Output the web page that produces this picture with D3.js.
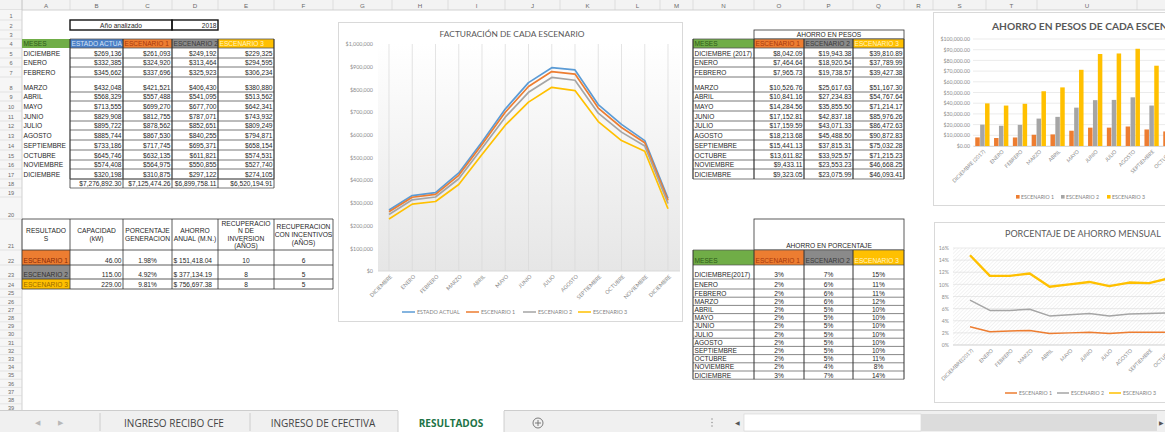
<!DOCTYPE html>
<html>
<head>
<meta charset="utf-8">
<title>RESULTADOS</title>
<script src="https://cdn.jsdelivr.net/npm/d3@7"></script>
<style>
body { margin: 0; background: #fff; overflow: hidden; }
svg { display: block; }
</style>
</head>
<body>
<div id="hoja"></div>
<script>
const W = 1165
const H = 432

const meses = ['DICIEMBRE', 'ENERO', 'FEBRERO', 'MARZO', 'ABRIL', 'MAYO', 'JUNIO', 'JULIO', 'AGOSTO', 'SEPTIEMBRE', 'OCTUBRE', 'NOVIEMBRE', 'DICIEMBRE']
const mesesPesos = ['DICIEMBRE (2017)', 'ENERO', 'FEBRERO', 'MARZO', 'ABRIL', 'MAYO', 'JUNIO', 'JULIO', 'AGOSTO', 'SEPTIEMBRE', 'OCTUBRE', 'NOVIEMBRE', 'DICIEMBRE']
const mesesPct = ['DICIEMBRE(2017)', 'ENERO', 'FEBRERO', 'MARZO', 'ABRIL', 'MAYO', 'JUNIO', 'JULIO', 'AGOSTO', 'SEPTIEMBRE', 'OCTUBRE', 'NOVIEMBRE', 'DICIEMBRE']
const series = ['ESTADO ACTUAL', 'ESCENARIO 1', 'ESCENARIO 2', 'ESCENARIO 3']

const estadoActual = [269136, 332385, 345662, 432048, 568329, 713555, 829908, 895722, 885744, 733186, 645746, 574408, 320198]
const escenario1 = [261093, 324920, 337696, 421521, 557488, 699270, 812755, 878562, 867530, 717745, 632135, 564975, 310875]
const escenario2 = [249192, 313464, 325923, 406430, 541095, 677700, 787071, 852651, 840255, 695371, 611821, 550855, 297122]
const escenario3 = [229325, 294595, 306234, 380880, 513562, 642341, 743932, 809249, 794871, 658154, 574531, 527740, 274105]
const totales = [7276892.30, 7125474.26, 6899758.11, 6520194.91]

const ahorro1 = [8042.09, 7464.64, 7965.73, 10526.76, 10841.16, 14284.56, 17152.81, 17159.59, 18213.68, 15441.13, 13611.82, 9433.11, 9323.05]
const ahorro2 = [19943.38, 18920.54, 19738.57, 25617.63, 27234.83, 35855.50, 42837.18, 43071.33, 45488.50, 37815.31, 33925.57, 23553.23, 23075.99]
const ahorro3 = [39810.89, 37789.99, 39427.38, 51167.30, 54767.64, 71214.17, 85976.26, 86472.63, 90872.83, 75032.28, 71215.23, 46668.25, 46093.41]

const pct1 = [3.0, 2.2, 2.3, 2.4, 1.9, 2.0, 2.1, 1.9, 2.1, 2.1, 2.1, 1.6, 2.9]
const pct2 = [7.4, 5.7, 5.7, 5.9, 4.8, 5.0, 5.2, 4.8, 5.1, 5.2, 5.3, 4.1, 7.2]
const pct3 = [14.8, 11.4, 11.4, 11.8, 9.6, 10.0, 10.4, 9.7, 10.3, 10.2, 11.0, 8.1, 14.4]

const resEscenarios = ['ESCENARIO 1', 'ESCENARIO 2', 'ESCENARIO 3']
const resCapacidad = [46, 115, 229]
const resPorcentaje = [1.98, 4.92, 9.81]
const resAhorro = [151418.04, 377134.19, 756697.38]
const resRecuperacion = [10, 8, 8]
const resIncentivos = [6, 5, 5]
const resHeaders = [['RESULTADO', 'S'], ['CAPACIDAD', '(kW)'], ['PORCENTAJE', 'GENERACION'], ['AHORRO', 'ANUAL (M.N.)'], ['RECUPERACIO', 'N DE', 'INVERSION', '(AÑOS)'], ['RECUPERACION', 'CON INCENTIVOS', '(AÑOS)']]
const hojas = ['INGRESO RECIBO CFE', 'INGRESO DE CFECTIVA', 'RESULTADOS']

// ---- colores ----
const cAzul = '#5b9bd5'
const cNaranja = '#ed7d31'
const cGris = '#a5a5a5'
const cOro = '#ffc000'
const hdrFill = { verde: '#70ad47', azul: '#4a7fc6', naranja: '#ed7d31', gris: '#8a8a8a', oro: '#ffc000' }
const hdrText = { verde: '#2e5a18', azul: '#d6e4f6', naranja: '#a8380c', gris: '#3a3a3a', oro: '#fff4c8' }

// ---- rejilla de la hoja ----
const colNames = ['A', 'B', 'C', 'D', 'E', 'F', 'G', 'H', 'I', 'J', 'K', 'L', 'M', 'N', 'O', 'P', 'Q', 'R', 'S', 'T', 'U', 'V']
const colEdges = [22, 70, 123, 172, 218, 274, 333, 392, 448, 505, 560, 615, 660, 693, 754, 804, 853, 904, 933, 986, 1037, 1137, 1215]
const rowHeights = [10, 10, 9, 9, 10, 9, 10, 15, 9, 10, 10, 9, 10, 10, 10, 9, 10, 9, 9, 22, 31, 15, 14, 10,
	8.2, 8.2, 8.2, 8.2, 8.2, 8.2, 8.2, 8.2, 8.2, 8.2, 8.2, 8.2, 8.2, 8.2, 8.2]
const rowEdges = [10]
rowHeights.forEach((h, i) => rowEdges.push(rowEdges[i] + h))
const barTop = 410

const colL = (c) => colEdges[colNames.indexOf(c)]
const colR = (c) => colEdges[colNames.indexOf(c) + 1]
const rowT = (r) => rowEdges[r - 1]
const rowB = (r) => rowEdges[r]

const chartFont = "Lato, 'Open Sans', sans-serif"

const svg = d3
	.select('#hoja')
	.append('svg')
	.attr('width', W)
	.attr('height', H)
	.attr('font-family', "'Liberation Sans', Arial, sans-serif")

svg.append('rect').attr('width', W).attr('height', H).attr('fill', '#fff')

const defs = svg.append('defs')
let clipCount = 0
function clipRect(x, y, w, h) {
	const id = 'clip' + clipCount++
	defs.append('clipPath').attr('id', id).append('rect').attr('x', x).attr('y', y).attr('width', w).attr('height', h)
	return 'url(#' + id + ')'
}

function cell(g, c0, c1, r0, r1, txt, o = {}) {
	const x0 = colL(c0)
	const x1 = colR(c1)
	const y0 = rowT(r0)
	const y1 = rowB(r1)
	if (o.fill) g.append('rect').attr('x', x0).attr('y', y0).attr('width', x1 - x0).attr('height', y1 - y0).attr('fill', o.fill)
	if (txt === undefined || txt === null) return
	const align = o.align || 'left'
	const x = align === 'left' ? x0 + 1.5 : align === 'right' ? x1 - 1.5 : (x0 + x1) / 2
	const t = g
		.append('text')
		.attr('x', x)
		.attr('y', o.y !== undefined ? o.y : y1 - 2)
		.attr('text-anchor', align === 'left' ? 'start' : align === 'right' ? 'end' : 'middle')
		.attr('font-size', o.size || 6.6)
		.attr('fill', o.color || '#262626')
		.text(txt)
	if (o.bold) t.attr('font-weight', 'bold')
	if (o.clip) t.attr('clip-path', clipRect(x0, y0, x1 - x0, y1 - y0))
}

function line(g, x1, y1, x2, y2, w, c) {
	g.append('line').attr('x1', x1).attr('y1', y1).attr('x2', x2).attr('y2', y2).attr('stroke', c || '#333').attr('stroke-width', w || 0.8)
}

// borders of every cell in a block
function grid(g, c0, c1, r0, r1, o = {}) {
	const i0 = colNames.indexOf(c0)
	const i1 = colNames.indexOf(c1) + 1
	const xL = colEdges[i0]
	const xR = colEdges[i1]
	for (let r = r0 - 1; r <= r1; r++) line(g, xL, rowEdges[r], xR, rowEdges[r], o.hw || 0.8, o.hc || '#555')
	for (let i = i0; i <= i1; i++) line(g, colEdges[i], rowEdges[r0 - 1], colEdges[i], rowEdges[r1], o.vw || 1.2, o.vc || '#333')
}

// ---- encabezados de fila y columna ----
const head = svg.append('g')
head.append('rect').attr('x', 0).attr('y', 0).attr('width', W).attr('height', 10).attr('fill', '#f3f3f3')
line(head, 0, 10, W, 10, 0.8, '#c6c6c6')
colNames.forEach((c, i) => {
	line(head, colEdges[i], 0, colEdges[i], 10, 0.6, '#d2d2d2')
	head
		.append('text')
		.attr('x', (colEdges[i] + colEdges[i + 1]) / 2)
		.attr('y', 7.5)
		.attr('text-anchor', 'middle')
		.attr('font-size', 6.2)
		.attr('fill', '#6a6a6a')
		.text(c)
})
head.append('rect').attr('x', 0).attr('y', 10).attr('width', 22).attr('height', barTop - 10).attr('fill', '#f6f6f6')
line(head, 22, 0, 22, barTop, 0.8, '#c6c6c6')
rowHeights.forEach((h, i) => {
	line(head, 0, rowEdges[i + 1], 22, rowEdges[i + 1], 0.6, '#d6d6d6')
	head
		.append('text')
		.attr('x', 11)
		.attr('y', rowEdges[i + 1] - 1.8)
		.attr('text-anchor', 'middle')
		.attr('font-size', 5.6)
		.attr('fill', '#6a6a6a')
		.text(i + 1)
})

// ---- tabla de facturacion ----
const t1 = svg.append('g')
cell(t1, 'B', 'C', 2, 2, 'Año analizado', { align: 'middle' })
cell(t1, 'D', 'D', 2, 2, '2018', { align: 'right' })
t1.append('rect').attr('x', colL('B')).attr('y', rowT(2)).attr('width', colR('C') - colL('B')).attr('height', rowB(2) - rowT(2)).attr('fill', 'none').attr('stroke', '#111').attr('stroke-width', 1.4)
t1.append('rect').attr('x', colL('D')).attr('y', rowT(2)).attr('width', colR('D') - colL('D')).attr('height', rowB(2) - rowT(2)).attr('fill', 'none').attr('stroke', '#111').attr('stroke-width', 1.4)

const hdr1 = [['A', 'MESES', 'verde'], ['B', series[0], 'azul'], ['C', series[1], 'naranja'], ['D', series[2], 'gris'], ['E', series[3], 'oro']]
hdr1.forEach(([c, txt, k]) => cell(t1, c, c, 4, 4, txt, { fill: hdrFill[k], color: hdrText[k], clip: true }))
const fmtEntero = d3.format('$,.0f')
const fmtPesos = d3.format('$,.2f')
meses.forEach((m, i) => {
	const r = 5 + i
	cell(t1, 'A', 'A', r, r, m)
	;[estadoActual, escenario1, escenario2, escenario3].forEach((s, j) => cell(t1, colNames[1 + j], colNames[1 + j], r, r, fmtEntero(s[i]), { align: 'right' }))
})
grid(t1, 'B', 'E', 4, 17)
totales.forEach((v, j) => cell(t1, colNames[1 + j], colNames[1 + j], 18, 18, fmtPesos(v), { align: 'right' }))
grid(t1, 'B', 'E', 18, 18, { vw: 0.8 })

// ---- tabla de resultados ----
const t2 = svg.append('g')
resHeaders.forEach((lines, j) => {
	const c = colNames[j]
	const x0 = colL(c)
	const x1 = colR(c)
	const y0 = rowT(21)
	const y1 = rowB(21)
	const mid = (y0 + y1) / 2
	const clip = clipRect(x0, y0, x1 - x0, y1 - y0)
	lines.forEach((t, k) => {
		t2.append('text')
			.attr('x', (x0 + x1) / 2)
			.attr('y', mid + (k - (lines.length - 1) / 2) * 7.6 + 2.4)
			.attr('text-anchor', 'middle')
			.attr('font-size', 6.7)
			.attr('fill', '#262626')
			.attr('clip-path', clip)
			.text(t)
	})
})
const resFill = ['naranja', 'gris', 'oro']
const resColor = ['#8a2a06', '#333', '#9a6a00']
resEscenarios.forEach((e, i) => {
	const r = 22 + i
	cell(t2, 'A', 'A', r, r, e, { fill: hdrFill[resFill[i]], color: resColor[i], clip: true })
	cell(t2, 'B', 'B', r, r, resCapacidad[i].toFixed(2), { align: 'right' })
	cell(t2, 'C', 'C', r, r, resPorcentaje[i].toFixed(2) + '%', { align: 'middle' })
	cell(t2, 'D', 'D', r, r, '$ ' + d3.format(',.2f')(resAhorro[i]))
	cell(t2, 'E', 'E', r, r, resRecuperacion[i], { align: 'middle' })
	cell(t2, 'F', 'F', r, r, resIncentivos[i], { align: 'middle' })
})
grid(t2, 'A', 'F', 21, 24, { vw: 0.8, hc: '#333' })

// ---- tabla ahorro en pesos ----
const t3 = svg.append('g')
cell(t3, 'O', 'Q', 3, 3, 'AHORRO EN PESOS', { align: 'middle' })
t3.append('rect').attr('x', colL('O')).attr('y', rowT(3)).attr('width', colR('Q') - colL('O')).attr('height', rowB(3) - rowT(3)).attr('fill', 'none').attr('stroke', '#333').attr('stroke-width', 0.8)
const hdr3 = [['N', 'MESES', 'verde'], ['O', series[1], 'naranja'], ['P', series[2], 'gris'], ['Q', series[3], 'oro']]
hdr3.forEach(([c, txt, k]) => cell(t3, c, c, 4, 4, txt, { fill: hdrFill[k], color: hdrText[k], clip: true }))
mesesPesos.forEach((m, i) => {
	const r = 5 + i
	cell(t3, 'N', 'N', r, r, m, { clip: true })
	;[ahorro1, ahorro2, ahorro3].forEach((s, j) => cell(t3, colNames[14 + j], colNames[14 + j], r, r, fmtPesos(s[i]), { align: 'right' }))
})
grid(t3, 'N', 'Q', 4, 17)

// ---- tabla ahorro en porcentaje ----
const t4 = svg.append('g')
cell(t4, 'O', 'Q', 21, 21, 'AHORRO EN PORCENTAJE', { align: 'middle' })
t4.append('rect').attr('x', colL('O')).attr('y', rowT(21)).attr('width', colR('Q') - colL('O')).attr('height', rowB(21) - rowT(21)).attr('fill', 'none').attr('stroke', '#333').attr('stroke-width', 0.8)
hdr3.forEach(([c, txt, k]) => cell(t4, c, c, 22, 22, txt, { fill: hdrFill[k], color: hdrText[k], clip: true }))
mesesPct.forEach((m, i) => {
	const r = 23 + i
	cell(t4, 'N', 'N', r, r, m, { clip: true, y: rowB(r) - 1.6 })
	;[pct1, pct2, pct3].forEach((s, j) => cell(t4, colNames[14 + j], colNames[14 + j], r, r, Math.round(s[i]) + '%', { align: 'middle', y: rowB(r) - 1.6 }))
})
grid(t4, 'N', 'Q', 22, 35, { vw: 1, hw: 0.7 })

// ---- grafica 1: facturacion ----
const c1 = svg.append('g').attr('font-family', chartFont)
c1.append('rect').attr('x', 338.5).attr('y', 22.5).attr('width', 344).attr('height', 299).attr('fill', '#fff').attr('stroke', '#d9d9d9')
c1.append('text').attr('x', 512).attr('y', 37).attr('text-anchor', 'middle').attr('font-size', 8.4).attr('fill', '#595959').text('FACTURACIÓN DE CADA ESCENARIO')

const x1s = d3.scalePoint().domain(d3.range(meses.length)).range([389, 668])
const y1s = d3.scaleLinear().domain([0, 1000000]).range([271, 44])

const grad = defs.append('linearGradient').attr('id', 'fondo1').attr('x1', 0).attr('y1', 0).attr('x2', 0).attr('y2', 1)
grad.append('stop').attr('offset', 0).attr('stop-color', '#ffffff')
grad.append('stop').attr('offset', 1).attr('stop-color', '#e6e6e6')
c1.append('rect').attr('x', 378).attr('y', 44).attr('width', 302).attr('height', 227).attr('fill', 'url(#fondo1)')

c1.append('g')
	.selectAll('line')
	.data(d3.range(meses.length))
	.join('line')
	.attr('x1', (d) => x1s(d))
	.attr('x2', (d) => x1s(d))
	.attr('y1', 44)
	.attr('y2', 271)
	.attr('stroke', '#d9d9d9')
	.attr('stroke-width', 0.7)

const ax1y = c1
	.append('g')
	.attr('transform', 'translate(373,0)')
	.call(d3.axisLeft(y1s).tickValues(d3.range(0, 1000001, 100000)).tickSize(0).tickPadding(0).tickFormat(d3.format('$,')))
ax1y.select('.domain').remove()
ax1y.attr('font-family', chartFont).attr('font-size', 5.4)
ax1y.selectAll('text').attr('fill', '#8c8c8c')

const ax1x = c1
	.append('g')
	.attr('transform', 'translate(0,271)')
	.call(d3.axisBottom(x1s).tickSize(0).tickFormat((i) => meses[i]))
ax1x.select('.domain').attr('stroke', '#d9d9d9').attr('d', 'M378,0H680')
ax1x.attr('font-family', chartFont).attr('font-size', 5.4)
ax1x.selectAll('text').attr('fill', '#8c8c8c').attr('y', 0).attr('dy', 0).attr('text-anchor', 'end').attr('transform', 'translate(3,6) rotate(-45)')

const facturacion = [estadoActual, escenario1, escenario2, escenario3]
const colores1 = [cAzul, cNaranja, cGris, cOro]
const linea1 = d3
	.line()
	.x((d, i) => x1s(i))
	.y((d) => y1s(d))
c1.append('g')
	.selectAll('path')
	.data(facturacion)
	.join('path')
	.attr('d', linea1)
	.attr('fill', 'none')
	.attr('stroke', (d, i) => colores1[i])
	.attr('stroke-width', 1.7)
	.attr('stroke-linejoin', 'round')

const leg1 = [402, 466, 523, 578]
series.forEach((s, i) => {
	line(c1, leg1[i], 312, leg1[i] + 13, 312, 1.5, colores1[i])
	c1.append('text').attr('x', leg1[i] + 15).attr('y', 314).attr('font-size', 5.4).attr('fill', '#7f7f7f').text(s)
})

// ---- grafica 2: ahorro en pesos ----
const c2 = svg.append('g').attr('font-family', chartFont)
c2.append('rect').attr('x', 933.5).attr('y', 12.5).attr('width', 360).attr('height', 193).attr('fill', '#fff').attr('stroke', '#d9d9d9')
c2.append('text').attr('x', 992).attr('y', 30).attr('font-size', 10.2).attr('font-weight', 'bold').attr('fill', '#595959').text('AHORRO EN PESOS DE CADA ESCENARIO')

const x2s = d3.scaleBand().domain(d3.range(mesesPesos.length)).range([973, 973 + 13 * 18.8]).paddingInner(0.24).paddingOuter(0.12)
const x2in = d3.scaleBand().domain([0, 1, 2]).range([0, x2s.bandwidth()]).paddingInner(0.08)
const y2s = d3.scaleLinear().domain([0, 100000]).range([146, 39])

const ax2y = c2
	.append('g')
	.attr('transform', 'translate(970,0)')
	.call(d3.axisLeft(y2s).ticks(10).tickSize(0).tickPadding(0).tickFormat(d3.format('$,.2f')))
ax2y.select('.domain').remove()
ax2y.attr('font-family', chartFont).attr('font-size', 5.2)
ax2y.selectAll('text').attr('fill', '#8c8c8c')
c2.append('g')
	.selectAll('line')
	.data(y2s.ticks(10))
	.join('line')
	.attr('x1', 973)
	.attr('x2', W)
	.attr('y1', (d) => y2s(d))
	.attr('y2', (d) => y2s(d))
	.attr('stroke', '#e2e2e2')
	.attr('stroke-width', 0.7)

const ahorros = [ahorro1, ahorro2, ahorro3]
const colores2 = [cNaranja, cGris, cOro]
ahorros.forEach((s, j) => {
	c2.append('g')
		.selectAll('rect')
		.data(s)
		.join('rect')
		.attr('x', (d, i) => x2s(i) + x2in(j))
		.attr('width', x2in.bandwidth())
		.attr('y', (d) => y2s(d))
		.attr('height', (d) => y2s(0) - y2s(d))
		.attr('fill', colores2[j])
})

const ax2x = c2
	.append('g')
	.attr('transform', 'translate(0,146)')
	.call(d3.axisBottom(x2s).tickSize(0).tickFormat((i) => mesesPesos[i]))
ax2x.select('.domain').attr('stroke', '#d9d9d9')
ax2x.attr('font-family', chartFont).attr('font-size', 5.2)
ax2x.selectAll('text').attr('fill', '#8c8c8c').attr('y', 0).attr('dy', 0).attr('text-anchor', 'end').attr('transform', 'translate(3,6) rotate(-45)')

const leg2 = [1016, 1061, 1107]
series.slice(1).forEach((s, i) => {
	c2.append('rect').attr('x', leg2[i]).attr('y', 195).attr('width', 3.6).attr('height', 3.6).attr('fill', colores2[i])
	c2.append('text').attr('x', leg2[i] + 5).attr('y', 199).attr('font-size', 5.2).attr('fill', '#7f7f7f').text(s)
})

// ---- grafica 3: porcentaje de ahorro ----
const c3 = svg.append('g').attr('font-family', chartFont)
c3.append('rect').attr('x', 934.5).attr('y', 222.5).attr('width', 360).attr('height', 180).attr('fill', '#fff').attr('stroke', '#d9d9d9')
c3.append('text').attr('x', 1005).attr('y', 237).attr('font-size', 9).attr('fill', '#595959').text('PORCENTAJE DE AHORRO MENSUAL')

const x3s = d3.scalePoint().domain(d3.range(mesesPct.length)).range([970, 970 + 12 * 19.9])
const y3s = d3.scaleLinear().domain([0, 16]).range([345, 248])

const hatch = defs.append('pattern').attr('id', 'rayado').attr('patternUnits', 'userSpaceOnUse').attr('width', 2.6).attr('height', 2.6).attr('patternTransform', 'rotate(45)')
hatch.append('line').attr('x1', 0).attr('y1', 0).attr('x2', 0).attr('y2', 2.6).attr('stroke', '#e4e4e4').attr('stroke-width', 0.9)
c3.append('rect').attr('x', 953).attr('y', 248).attr('width', W - 953).attr('height', 97).attr('fill', 'url(#rayado)')

c3.append('g')
	.selectAll('line')
	.data(y3s.ticks(8))
	.join('line')
	.attr('x1', 953)
	.attr('x2', W)
	.attr('y1', (d) => y3s(d))
	.attr('y2', (d) => y3s(d))
	.attr('stroke', '#dcdcdc')
	.attr('stroke-width', 0.6)

const ax3y = c3
	.append('g')
	.attr('transform', 'translate(949,0)')
	.call(d3.axisLeft(y3s).ticks(8).tickSize(0).tickPadding(0).tickFormat((d) => d + '%'))
ax3y.select('.domain').remove()
ax3y.attr('font-family', chartFont).attr('font-size', 5.2)
ax3y.selectAll('text').attr('fill', '#8c8c8c')

const ax3x = c3
	.append('g')
	.attr('transform', 'translate(0,345)')
	.call(d3.axisBottom(x3s).tickSize(0).tickFormat((i) => mesesPct[i]))
ax3x.select('.domain').attr('stroke', '#d9d9d9').attr('d', 'M953,0H' + W)
ax3x.attr('font-family', chartFont).attr('font-size', 5.2)
ax3x.selectAll('text').attr('fill', '#8c8c8c').attr('y', 0).attr('dy', 0).attr('text-anchor', 'end').attr('transform', 'translate(3,6) rotate(-45)')

const linea3 = d3
	.line()
	.x((d, i) => x3s(i))
	.y((d) => y3s(d))
const porcentajes = [pct1, pct2, pct3]
const anchos3 = [1.5, 1.5, 2.4]
c3.append('g')
	.selectAll('path')
	.data(porcentajes)
	.join('path')
	.attr('d', linea3)
	.attr('fill', 'none')
	.attr('stroke', (d, i) => colores2[i])
	.attr('stroke-width', (d, i) => anchos3[i])
	.attr('stroke-linejoin', 'round')

const leg3 = [1005, 1057, 1109]
series.slice(1).forEach((s, i) => {
	line(c3, leg3[i], 393, leg3[i] + 12, 393, 1.5, colores2[i])
	c3.append('text').attr('x', leg3[i] + 14).attr('y', 395).attr('font-size', 5.2).attr('fill', '#7f7f7f').text(s)
})

// ---- barra de hojas ----
const tabs = svg.append('g').attr('font-family', "'Open Sans', 'Noto Sans', sans-serif")
tabs.append('rect').attr('x', 0).attr('y', barTop).attr('width', W).attr('height', H - barTop).attr('fill', '#f0f0f0')
line(tabs, 0, barTop + 0.5, W, barTop + 0.5, 0.8, '#c4c4c4')
tabs.append('text').attr('x', 37).attr('y', 425).attr('text-anchor', 'middle').attr('font-size', 7).attr('fill', '#b8b8b8').text('◀')
tabs.append('text').attr('x', 60).attr('y', 425).attr('text-anchor', 'middle').attr('font-size', 7).attr('fill', '#b8b8b8').text('▶')
tabs.append('rect').attr('x', 398).attr('y', barTop).attr('width', 106).attr('height', H - barTop).attr('fill', '#fff')
line(tabs, 100, barTop + 3, 100, 431, 0.8, '#c4c4c4')
line(tabs, 250, barTop + 3, 250, 431, 0.8, '#c4c4c4')
line(tabs, 398, barTop + 1, 398, 432, 0.8, '#c4c4c4')
line(tabs, 504, barTop + 1, 504, 432, 0.8, '#c4c4c4')
const tabX = [174, 323, 451]
hojas.forEach((h, i) => {
	const t = tabs
		.append('text')
		.attr('x', tabX[i])
		.attr('y', 427)
		.attr('text-anchor', 'middle')
		.attr('font-size', 10)
		.attr('fill', i === 2 ? '#217346' : '#444')
		.text(h)
	if (i === 2) t.attr('font-weight', 'bold')
})
tabs.append('circle').attr('cx', 538).attr('cy', 423).attr('r', 5).attr('fill', 'none').attr('stroke', '#6d6d6d').attr('stroke-width', 0.9)
line(tabs, 535, 423, 541, 423, 0.9, '#6d6d6d')
line(tabs, 538, 420, 538, 426, 0.9, '#6d6d6d')
;[419, 422.5, 426].forEach((y) => tabs.append('circle').attr('cx', 712).attr('cy', y).attr('r', 0.8).attr('fill', '#9a9a9a'))
tabs.append('text').attr('x', 737).attr('y', 425).attr('text-anchor', 'middle').attr('font-size', 6).attr('fill', '#555').text('◀')
tabs.append('rect').attr('x', 744).attr('y', barTop + 4).attr('width', 177).attr('height', 17).attr('fill', '#fff').attr('stroke', '#d4d4d4').attr('stroke-width', 0.6)
tabs.append('rect').attr('x', 921).attr('y', barTop + 4).attr('width', 236).attr('height', 17).attr('fill', '#dcdcdc')
tabs.append('text').attr('x', 1161).attr('y', 425).attr('text-anchor', 'middle').attr('font-size', 6).attr('fill', '#555').text('▶')
</script>
</body>
</html>
